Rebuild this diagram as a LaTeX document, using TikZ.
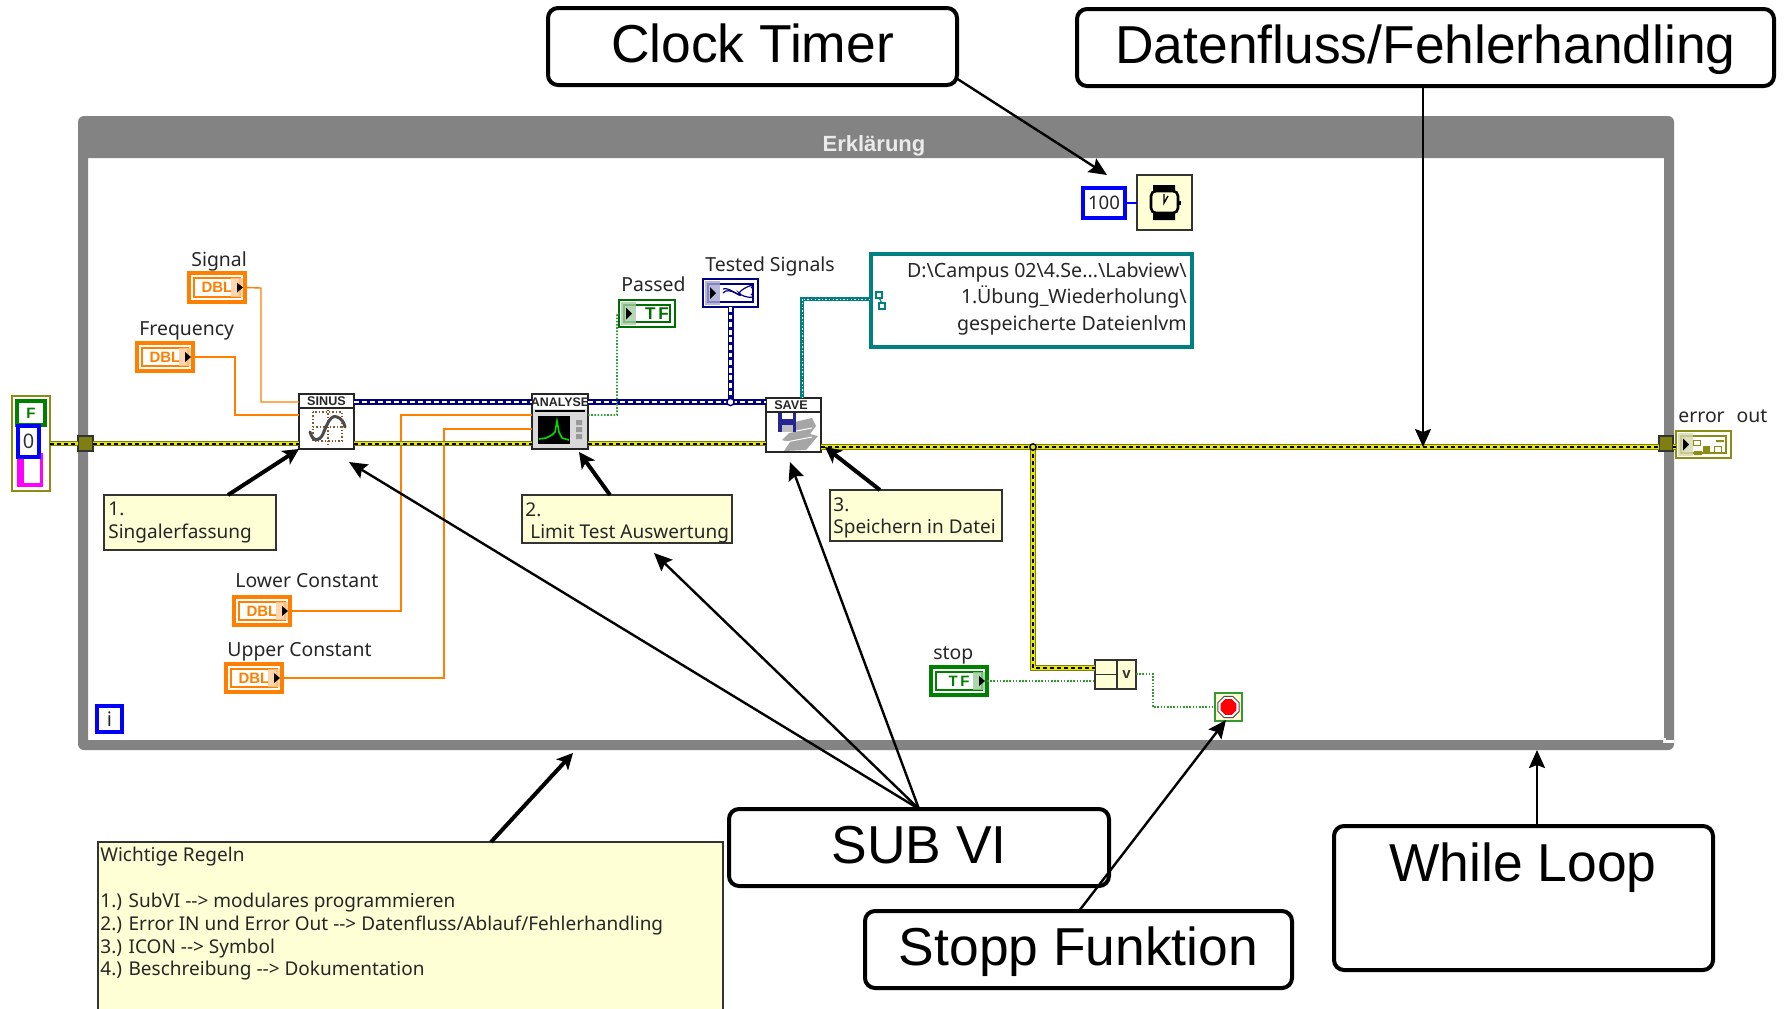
\documentclass[tikz,border=0pt]{standalone}
\usepackage{fontspec}
\setmainfont{Liberation Sans}
\newfontfamily\lvfont{Noto Sans}
\usetikzlibrary{arrows.meta,calc,shapes.geometric}
\definecolor{notey}{HTML}{FFFFD6}
\definecolor{loopg}{HTML}{838383}
\definecolor{lvorange}{HTML}{FF8000}
\definecolor{lvgreen}{HTML}{008000}
\definecolor{lvteal}{HTML}{008080}
\definecolor{lvnavy}{HTML}{000080}
\definecolor{lvblue}{HTML}{0000FF}
\definecolor{lvolive}{HTML}{8C8C14}
\definecolor{lvpink}{HTML}{FF00FF}
\definecolor{wirey}{HTML}{E6E600}
\tikzset{
  callout/.style={draw=black,line width=2pt,rounded corners=5pt,fill=white,font=\fontsize{26.7}{30}\selectfont,text height=18.9pt,text depth=3.4pt},
  lbl/.style={font=\lvfont\fontsize{9.7}{12}\selectfont,text=black!85,inner sep=0pt,anchor=west},
  note/.style={draw=black!80,line width=.8pt,fill=notey},
  notetxt/.style={font=\lvfont\fontsize{9.5}{11.4}\selectfont,text=black!85,inner sep=0pt,anchor=north west,align=left},
  vi/.style={draw=black!85,line width=.9pt,fill=white},
  bigarrow/.style={-{Stealth[length=9pt,width=8pt,inset=1.5pt]},line width=1.2pt,black},
  notearrow/.style={-{Stealth[length=8pt,width=8pt,inset=2pt]},line width=2pt,black},
  orangew/.style={lvorange,line width=.7pt},
  boolw/.style={lvgreen!80,line width=.8pt,dash pattern=on .8pt off .8pt},
  errw/.style={line width=2.8pt,draw=black!10!lvolive,
    postaction={draw=wirey,line width=1.6pt,solid},
    postaction={draw=black,line width=1pt,dash pattern=on 1.8pt off 1.7pt}},
  arrw/.style={line width=2.6pt,draw=lvnavy,
    postaction={draw=white,line width=1pt,dash pattern=on 2.6pt off 1.4pt}},
  arrwv/.style={line width=3pt,draw=lvnavy,
    postaction={draw=white,line width=1.1pt,dash pattern=on 2.4pt off 1.4pt}},
  pathw/.style={line width=1.6pt,draw=lvteal,
    postaction={draw=white,line width=.5pt,dash pattern=on .7pt off 1.1pt}},
}
\newcommand{\pxnode}[7][]{%
  \pgfmathsetmacro\bcx{(#3+#5)/2}\pgfmathsetmacro\bcy{(#4+#6)/2}%
  \pgfmathsetmacro\bw{(#5-#3)*0.5}\pgfmathsetmacro\bh{(#6-#4)*0.5}%
  \node[#1,minimum width=\bw pt,minimum height=\bh pt,inner sep=0pt,outer sep=0pt] (#2) at (\bcx,\bcy) {#7};%
}
% control terminal: arrow on the right
\newcommand{\ctrlterm}[7]{%
  \pxnode[draw=#6,line width=1.9pt,fill=white,text=#6,font=\bfseries\fontsize{7.5}{8}\selectfont]{#1}{#2}{#3}{#4}{#5}{#7}
  \draw[#6,line width=.6pt] ($(#1.north west)+(5,5)$) rectangle ($(#1.south east)+(-5,-5)$);
  \fill[#6!40,opacity=.8] ($(#1.north east)+(-14,5)$) rectangle ($(#1.south east)+(-2,-5)$);
  \fill[black] ($(#1.east)+(-8,-5)$) -- ($(#1.east)+(-2,0)$) -- ($(#1.east)+(-8,5)$) -- cycle;
}
% indicator terminal: arrow on the left
\newcommand{\indterm}[7]{%
  \pxnode[draw=#6,line width=.9pt,fill=white,text=#6,font=\bfseries\fontsize{8.5}{9}\selectfont]{#1}{#2}{#3}{#4}{#5}{#7}
  \draw[#6,line width=.6pt] ($(#1.north west)+(5,5)$) rectangle ($(#1.south east)+(-5,-5)$);
  \fill[#6!35,opacity=.8] ($(#1.north west)+(2,2)$) rectangle ($(#1.south west)+(17,-2)$);
  \fill[black] ($(#1.west)+(7,-6)$) -- ($(#1.west)+(13,0)$) -- ($(#1.west)+(7,6)$) -- cycle;
}
\begin{document}
\begin{tikzpicture}[x=0.5pt,y=-0.5pt]
\useasboundingbox (0,0) rectangle (1785,1008);
% While loop frame
\fill[loopg,rounded corners=3pt,even odd rule]
  (78,116) rectangle (1674,750) [sharp corners] (88,158) rectangle (1664,740);
\draw[white,line width=1.5pt] (1664,738) -- (1664,741) -- (1674,741);
\node[font=\bfseries\fontsize{11}{12}\selectfont,text=white!92!black] (title) at (874,146) {Erklärung};

% Terminals and nodes
\pxnode[draw=lvolive,line width=.8pt,fill=white]{stack}{12}{396}{50}{491}{}
\pxnode[draw=lvgreen,line width=1.9pt,fill=white,text=lvgreen,font=\bfseries\fontsize{7.5}{8}\selectfont]{sfalse}{17}{401}{45}{425}{F}
\pxnode[fill=lvpink]{spink}{17}{453}{43}{487}{}
\fill[white] ($(spink.north west)+(7,6)$) rectangle ($(spink.south east)+(-3,-4)$);
\pxnode[draw=lvblue,line width=1.9pt,fill=white,font=\lvfont\fontsize{10}{12}\selectfont,text=black!80]{szero}{18}{426}{39}{457}{0}
\pxnode[draw=black!80,line width=.8pt,fill=lvolive!90!black]{tunL}{78}{436}{93}{451}{}
\pxnode[draw=black!80,line width=.8pt,fill=lvolive!90!black]{tunR}{1659}{436}{1673}{451}{}

\ctrlterm{signal}{189}{273}{245}{302}{lvorange}{DBL\hspace{6pt}}
\ctrlterm{freq}{137}{343}{193}{371}{lvorange}{DBL\hspace{6pt}}
\ctrlterm{lower}{234}{597}{290}{625}{lvorange}{DBL\hspace{6pt}}
\ctrlterm{upper}{226}{664}{282}{692}{lvorange}{DBL\hspace{6pt}}
\ctrlterm{stopc}{931}{667}{987}{695}{lvgreen}{T\,F\hspace{4pt}}
\indterm{passed}{619}{300}{675}{327}{lvgreen!85!black}{\hspace{10pt}T\,F}
\indterm{tested}{703}{279}{758}{307}{lvnavy}{}
\draw[lvnavy,line width=.6pt] ($(tested.west)+(20,0)$) .. controls +(6,-8) and +(6,8) .. +(16,0) .. controls +(4,-6) and +(8,-6) .. +(28,-5);
\draw[lvnavy,line width=.6pt] ($(tested.west)+(20,-4)$) .. controls +(6,-3) and +(6,8) .. +(16,4) .. controls +(4,5) and +(8,5) .. +(28,5);
\indterm{errout}{1676}{431}{1731}{458}{lvolive}{}
\begin{scope}[shift={(errout.north west)}]
  \fill[lvolive] (18,20) rectangle (26,24) (27,15) rectangle (34,22) (40,9) rectangle (48,11);
  \draw[lvolive,line width=.5pt] (17,9) rectangle (24,14) (38,15) rectangle (45,22);
\end{scope}

\pxnode[vi]{sinus}{299}{394}{354}{449}{}
\begin{scope}[shift={(sinus.north west)}]
  \draw[black!85,line width=.7pt] (0,14) -- (55,14);
  \node[font=\bfseries\fontsize{6.3}{7}\selectfont,text=black!85,inner sep=0pt] at (27.5,7.5) {SINUS};
  \draw[brown!70!black,line width=.7pt,dash pattern=on .7pt off 1pt] (14,18) rectangle (43,47) (29,16) -- (29,52) (14,33) -- (43,33);
  \draw[black!70,line width=1.5pt,line cap=round] (11,38) .. controls (14,48) and (20,48) .. (24,40) .. controls (28,30) and (32,20) .. (38,23) .. controls (42,24) and (45,28) .. (46,33);
\end{scope}

\pxnode[vi,fill=black!15]{analyse}{532}{394}{588}{449}{}
\begin{scope}[shift={(analyse.north west)}]
  \fill[white] (1,1) rectangle (55,15);
  \draw[black,line width=1pt] (3,17) -- (53,17);
  \node[font=\bfseries\fontsize{6.2}{7}\selectfont,text=black!85,inner sep=0pt] at (28,8) {ANALYSE};
  \fill[black] (6,22) rectangle (38,50);
  \draw[green!85!black,line width=.8pt] (7,45) -- (14,44) -- (20,41) -- (23,38) -- (25,27) -- (27,38) -- (30,44) -- (37,46);
  \fill[black!40] (44,26) rectangle (50,31) (44,33) rectangle (50,38) (44,40) rectangle (50,45);
\end{scope}

\pxnode[vi]{save}{766}{398}{821}{452}{}
\begin{scope}[shift={(save.north west)}]
  \draw[black!85,line width=.7pt] (0,14) -- (55,14);
  \node[font=\bfseries\fontsize{6.3}{7}\selectfont,text=black!85,inner sep=0pt] at (25,7.5) {SAVE};
  \fill[black!35] (20,26) -- (46,20) -- (50,28) -- (44,36) -- (52,38) -- (40,52) -- (18,53) -- (24,44) -- (16,42) -- (24,34) -- cycle;
  \draw[white,line width=.5pt] (20,35) -- (46,30) (20,44) -- (46,39);
  \fill[lvnavy!85] (12,15) rectangle (30,34);
  \fill[white] (16,15) rectangle (27,21);
  \fill[black!25] (16,27) rectangle (27,34);
\end{scope}

\pxnode[draw=black!80,line width=.8pt,fill=notey]{timer}{1137}{175}{1192}{230}{}
\begin{scope}[shift={(timer.north west)}]
  \fill[black] (16,10) rectangle (38,16) (16,38) rectangle (38,45);
  \draw[black,line width=1.3pt,fill=notey,rounded corners=2.5pt] (14,16) rectangle (41,38);
  \fill[black] (41,26) rectangle (44,30);
  \draw[black,line width=.7pt] (27,19) -- (27,28) -- (31,21);
\end{scope}
\pxnode[draw=lvblue,line width=1.9pt,fill=white,font=\lvfont\fontsize{9.3}{11}\selectfont,text=black!85]{hundred}{1083}{188}{1125}{218}{100}
\pxnode[draw=lvteal,line width=1.6pt,fill=white]{pathc}{871}{254}{1192}{347}{}
\node[font=\lvfont\fontsize{9.8}{13.3}\selectfont,text=black!85,inner sep=0pt,anchor=east,align=right] (pathtxt) at (1187,298.5)
  {D:\textbackslash Campus 02\textbackslash 4.Se...\textbackslash Labview\textbackslash\\1.Übung\_Wiederholung\textbackslash\\gespeicherte Dateienlvm};
\draw[lvteal,line width=.6pt] ($(pathc.west)+(8,-3)$) -- +(3,6);
\draw[lvteal,line width=.7pt,fill=white] ($(pathc.west)+(5,-8.5)$) rectangle +(6,6);
\draw[lvteal,line width=.7pt,fill=white] ($(pathc.west)+(8,2.5)$) rectangle +(6,6);

\pxnode[draw=black!80,line width=.8pt,fill=notey]{ornode}{1095}{660}{1136}{689}{}
\draw[black!80,line width=.7pt] ($(ornode.north west)+(22,0)$) -- ($(ornode.south west)+(22,0)$);
\draw[black!80,line width=.7pt] ($(ornode.west)+(0,0)$) -- ($(ornode.center)+(1.5,0)$);
\node[font=\bfseries\fontsize{7.5}{8}\selectfont,text=black!80,inner sep=0pt] at ($(ornode.center)+(11,0)$) {v};

\pxnode[draw=lvgreen!80,line width=.7pt,fill=notey]{stopb}{1215}{693}{1242}{721}{}
\node[regular polygon,regular polygon sides=8,draw=black!70,line width=.5pt,fill=white,minimum size=11.5pt,inner sep=0pt] at (stopb.center) {};
\node[regular polygon,regular polygon sides=8,fill=red,minimum size=8.5pt,inner sep=0pt] at (stopb.center) {};

\pxnode[draw=lvblue,line width=1.9pt,fill=white,font=\lvfont\fontsize{10}{12}\selectfont,text=black!85]{iter}{97}{706}{122}{732}{i}

% Labels
\node[lbl] (lsignal) at (191,261) {Signal};
\node[lbl] (lfreq) at (139,331) {Frequency};
\node[lbl] (llower) at (235,581) {Lower Constant};
\node[lbl] (lupper) at (227,652) {Upper Constant};
\node[lbl] (lpassed) at (621,284) {Passed};
\node[lbl] (ltested) at (705,266) {Tested Signals};
\node[lbl] (lstop) at (933,655) {stop};
\node[lbl] (lerr) at (1678,416) {error\hspace{6pt}out};

% Wires
\draw[orangew] (signal.east) -- (261,288) -- (261,402) -- (sinus.west |- 0,402);
\draw[orangew] (freq.east) -- (235,357) -- (235,415) -- (sinus.west |- 0,415);
\draw[orangew] (lower.east) -- (401,611) -- (401,415) -- (analyse.west |- 0,415);
\draw[orangew] (upper.east) -- (444,678) -- (444,429) -- (analyse.west |- 0,429);
\draw[lvblue,line width=.7pt] (hundred.east) -- (timer.west |- hundred.east);
\draw[errw] (stack.east |- tunL) -- (tunL.west);
\draw[errw] (tunL.east) -- (sinus.west |- tunL);
\draw[errw] (sinus.east |- tunL) -- (analyse.west |- tunL);
\draw[errw] (analyse.east |- tunL) -- (save.west |- tunL);
\draw[errw] (save.east |- 0,447) -- (tunR.west |- 0,447);
\draw[errw] (tunR.east |- 0,447) -- (errout.west |- 0,447);
\draw[errw] (1033,447) -- (1033,668) -- (ornode.west |- 0,668);
\coordinate (jerr) at (1033,447);
\draw[black,line width=.7pt,fill=wirey] (jerr) circle (1.6pt);
\draw[arrw] (sinus.east |- 0,402) -- (analyse.west |- 0,402);
\draw[arrw] (analyse.east |- 0,402) -- (save.west |- 0,402);
\draw[arrwv] (tested.south) -- (tested.south |- 0,402);
\coordinate (jarr) at (tested.south |- 0,402);
\draw[lvnavy,line width=.7pt,fill=white] (jarr) circle (1.8pt);
\draw[boolw] (analyse.east |- 0,415) -- (617,415) -- (617,314) -- (passed.west);
\draw[pathw] (802,398) -- (802,299) -- (pathc.west |- 0,299);
\draw[boolw] (stopc.east) -- (ornode.west |- stopc.east);
\draw[boolw] (ornode.east |- 0,674) -- (1153,674) -- (1153,707) -- (stopb.west);

% Notes
\pxnode[note]{note1}{104}{495}{276}{550}{}
\node[notetxt] at (108,502) {1.\\Singalerfassung};
\pxnode[note]{note2}{522}{495}{732}{543}{}
\node[notetxt] at (525,502) {2.\\\ Limit Test Auswertung};
\pxnode[note]{note3}{830}{490}{1002}{541}{}
\node[notetxt] at (833,497) {3.\\Speichern in Datei};
\pxnode[note]{noteR}{98}{842}{723}{1016}{}
\node[notetxt] at (100,847) {Wichtige Regeln\\[11.4pt]1.) SubVI --{}> modulares programmieren\\2.) Error IN und Error Out --{}> Datenfluss/Ablauf/Fehlerhandling\\3.) ICON --{}> Symbol\\4.) Beschreibung --{}> Dokumentation};

% Callouts
\pxnode[callout]{cclock}{548}{8}{957}{85}{Clock Timer}
\pxnode[callout]{cdaten}{1077}{9}{1774}{86}{Datenfluss/Fehlerhandling}
\pxnode[callout]{csub}{729}{809}{1109}{886}{SUB VI}
\pxnode[callout]{cstopp}{865}{911}{1292}{988}{Stopp Funktion}
\pxnode[callout]{cwhile}{1334}{826}{1713}{970}{}
\node[font=\fontsize{26.7}{30}\selectfont,inner sep=0pt] (twhile) at (1523,868) {While Loop};

% Annotation arrows
\coordinate (tclock) at (1107,175);
\coordinate (tdaten) at (1423,447);
\coordinate (twl) at (1537,750);
\coordinate (tsin) at (349,462);
\coordinate (tlim) at (654,553);
\coordinate (tsav) at (790,462);
\coordinate (tstop) at (1226,720);
\coordinate (tloop) at (573,753);
\draw[bigarrow] (cclock.south east) ++(-1,-7) -- (tclock);
\draw[bigarrow] (tdaten |- cdaten.south) -- (tdaten);
\draw[bigarrow] (twl |- cwhile.north) -- (twl);
\draw[bigarrow] (csub.north) -- (tsin);
\draw[bigarrow] (csub.north) -- (tlim);
\draw[bigarrow] (csub.north) -- (tsav);
\draw[bigarrow] (1079,911) -- (tstop);
\draw[notearrow] (228,495) -- (sinus.south west);
\draw[notearrow] (610,495) -- (579,452);
\draw[notearrow] (880,490) -- (825,447);
\draw[notearrow] (491,842) -- (tloop);
\end{tikzpicture}
\end{document}
